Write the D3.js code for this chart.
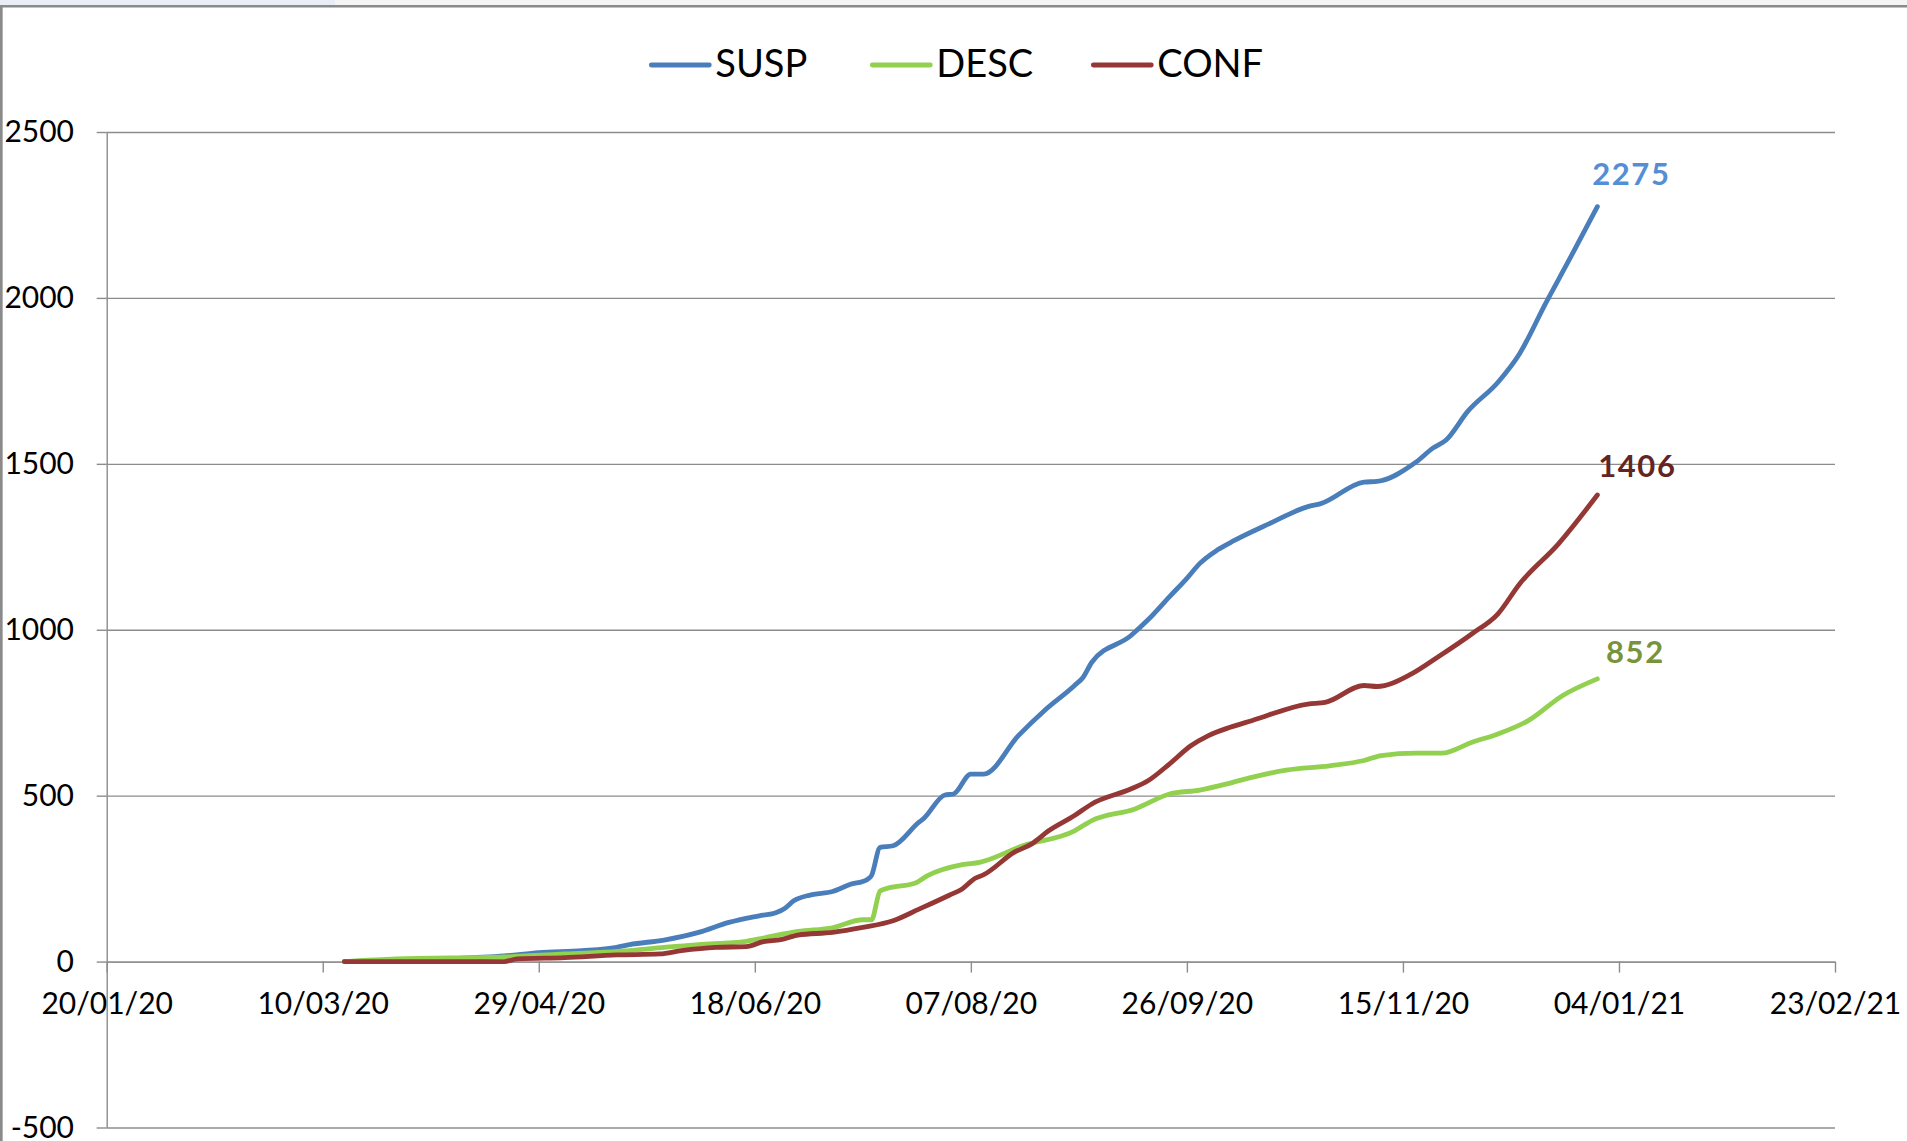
<!DOCTYPE html>
<html>
<head>
<meta charset="utf-8">
<script src="https://cdn.jsdelivr.net/npm/d3@7"></script>
<style>
  html, body { margin: 0; padding: 0; background: #ffffff; }
  svg { display: block; }
</style>
</head>
<body>
<script>
// ---------------- DATA ----------------
const seriesNames = ["SUSP", "DESC", "CONF"];

const suspDates = ["2020-03-15","2020-03-28","2020-04-09","2020-04-21","2020-04-29","2020-05-09","2020-05-17","2020-05-20","2020-05-28","2020-06-05","2020-06-12","2020-06-19","2020-06-23","2020-06-25","2020-06-27","2020-07-01","2020-07-06","2020-07-10","2020-07-14","2020-07-15","2020-07-17","2020-07-20","2020-07-26","2020-07-27","2020-08-01","2020-08-03","2020-08-07","2020-08-10","2020-08-18","2020-08-24","2020-08-31","2020-09-02","2020-09-04","2020-09-13","2020-09-17","2020-09-22","2020-09-26","2020-09-29","2020-10-03","2020-10-07","2020-10-15","2020-10-24","2020-10-27","2020-11-06","2020-11-09","2020-11-18","2020-11-22","2020-11-25","2020-11-30","2020-12-07","2020-12-12","2020-12-18","2020-12-23","2020-12-30"];
const suspValues = [0,5,9,17,27,33,43,51,65,88,118,138,148,161,183,201,211,232,247,259,344,349,420,430,502,505,565,565,681,756,832,857,902,982,1030,1100,1155,1200,1240,1269,1319,1371,1380,1445,1447,1505,1548,1572,1658,1746,1832,1983,2103,2275];

const descDates = ["2020-03-15","2020-03-27","2020-04-21","2020-05-05","2020-05-20","2020-05-28","2020-06-05","2020-06-16","2020-06-20","2020-06-28","2020-07-06","2020-07-13","2020-07-15","2020-07-17","2020-07-19","2020-07-25","2020-07-28","2020-08-05","2020-08-09","2020-08-19","2020-08-31","2020-09-04","2020-09-14","2020-09-22","2020-09-29","2020-10-06","2020-10-11","2020-10-19","2020-10-29","2020-11-06","2020-11-10","2020-11-18","2020-11-24","2020-12-01","2020-12-07","2020-12-14","2020-12-22","2020-12-30"];
const descValues = [0,8,14,23,33,43,51,61,71,91,102,126,126,213,222,236,259,292,299,349,394,425,460,505,517,538,555,577,590,606,621,628,628,661,686,726,802,852];

const confDates = ["2020-03-15","2020-04-21","2020-04-24","2020-05-05","2020-05-17","2020-05-27","2020-06-01","2020-06-09","2020-06-16","2020-06-20","2020-06-24","2020-06-28","2020-07-06","2020-07-13","2020-07-20","2020-07-26","2020-08-02","2020-08-05","2020-08-08","2020-08-10","2020-08-17","2020-08-21","2020-08-25","2020-08-31","2020-09-04","2020-09-13","2020-09-17","2020-09-22","2020-09-27","2020-10-01","2020-10-06","2020-10-11","2020-10-24","2020-10-28","2020-11-06","2020-11-09","2020-11-17","2020-11-23","2020-12-01","2020-12-07","2020-12-12","2020-12-21","2020-12-30"];
const confValues = [0,0,8,12,20,23,33,43,45,60,66,80,88,103,123,158,200,219,251,262,329,354,394,440,475,520,545,596,651,681,706,726,776,781,832,829,867,917,988,1048,1138,1259,1406];

const yTickValues = [-500, 0, 500, 1000, 1500, 2000, 2500];
const xTickLabels = ["20/01/20","10/03/20","29/04/20","18/06/20","07/08/20","26/09/20","15/11/20","04/01/21","23/02/21"];
const endLabels = ["2275", "852", "1406"];

// ---------------- LAYOUT ----------------
const W = 1907, H = 1141;
const plotLeft = 106.7, plotRight = 1835, plotTop = 132, plotBottom = 1127.5;
const colors = { SUSP: "#4A7EBB", DESC: "#92D050", CONF: "#953735" };
const labelColors = { SUSP: "#558ED5", DESC: "#77933C", CONF: "#632523" };
const labelOffsets = { SUSP: [34, -33], DESC: [38, -27], CONF: [40, -29] };
const gridColor = "#8c8c8c";

const parse = d3.timeParse("%d/%m/%y");
const parseISO = d3.timeParse("%Y-%m-%d");
const xTicks = xTickLabels.map(parse);

const series = [
  { name: seriesNames[0], dates: suspDates, values: suspValues, label: endLabels[0] },
  { name: seriesNames[1], dates: descDates, values: descValues, label: endLabels[1] },
  { name: seriesNames[2], dates: confDates, values: confValues, label: endLabels[2] }
].map(s => ({ ...s, points: s.dates.map((d, i) => ({ date: parseISO(d), value: s.values[i] })) }));

const x = d3.scaleTime().domain([xTicks[0], xTicks[xTicks.length - 1]]).range([plotLeft, plotRight]);
const y = d3.scaleLinear().domain([-500, 2500]).range([plotBottom, plotTop]);

const svg = d3.select("body").append("svg").attr("width", W).attr("height", H);
svg.append("rect").attr("width", W).attr("height", H).attr("fill", "#ffffff");

// window chrome edges
svg.append("rect").attr("x", 0).attr("y", 0).attr("width", W).attr("height", 5).attr("fill", "#f4f4f4");
svg.append("rect").attr("x", 0).attr("y", 0).attr("width", 335).attr("height", 5).attr("fill", "#e9eef6");
svg.append("line").attr("x1", 0).attr("x2", W).attr("y1", 6.2).attr("y2", 6.2).attr("stroke", "#8a8a8a").attr("stroke-width", 2.5);
svg.append("line").attr("x1", 1.3).attr("x2", 1.3).attr("y1", 5).attr("y2", H).attr("stroke", "#8a8a8a").attr("stroke-width", 2.7);

const fontAxis = "Lato, 'Open Sans', sans-serif";

// gridlines
const grid = svg.append("g").attr("transform", `translate(${plotLeft},0)`)
  .call(d3.axisRight(y).tickValues(yTickValues).tickSize(plotRight - plotLeft).tickFormat(""));
grid.select(".domain").remove();
grid.selectAll(".tick line").attr("stroke", gridColor).attr("stroke-width", 1.4);

// y axis
const yAxis = svg.append("g").attr("transform", `translate(${plotLeft},0)`)
  .call(d3.axisLeft(y).tickValues(yTickValues).tickSize(10).tickPadding(22.7).tickSizeOuter(0)
    .tickFormat(d => String(d)));
yAxis.select(".domain").attr("stroke", gridColor).attr("stroke-width", 1.4);
yAxis.selectAll(".tick line").attr("stroke", gridColor).attr("stroke-width", 1.4);
yAxis.selectAll(".tick text").attr("font-family", fontAxis).attr("font-size", 30).attr("fill", "#000");

// x axis at zero
const xAxis = svg.append("g").attr("transform", `translate(0,${y(0)})`)
  .call(d3.axisBottom(x).tickValues(xTicks).tickSize(11).tickPadding(20).tickSizeOuter(0)
    .tickFormat(d3.timeFormat("%d/%m/%y")));
xAxis.select(".domain").attr("stroke", gridColor).attr("stroke-width", 1.4);
xAxis.selectAll(".tick line").attr("stroke", gridColor).attr("stroke-width", 1.4);
xAxis.selectAll(".tick text").attr("font-family", fontAxis).attr("font-size", 30).attr("fill", "#000");

// lines
const line = d3.line().x(d => x(d.date)).y(d => y(d.value)).curve(d3.curveMonotoneX);
svg.append("g").selectAll("path").data(series).join("path")
  .attr("d", s => line(s.points))
  .attr("fill", "none")
  .attr("stroke", s => colors[s.name])
  .attr("stroke-width", 4.8)
  .attr("stroke-linejoin", "round")
  .attr("stroke-linecap", "round");

// end labels
svg.append("g").selectAll("text").data(series).join("text")
  .attr("x", s => x(s.points[s.points.length - 1].date) + labelOffsets[s.name][0])
  .attr("y", s => y(s.points[s.points.length - 1].value) + labelOffsets[s.name][1] + 11)
  .attr("text-anchor", "middle")
  .attr("font-family", fontAxis)
  .attr("font-weight", "bold")
  .attr("font-size", 31)
  .attr("letter-spacing", 1.6)
  .attr("fill", s => labelColors[s.name])
  .text(s => s.label);

// legend
const legendLineX = { SUSP: 651.3, DESC: 872.3, CONF: 1093.3 };
const legend = svg.append("g").selectAll("g").data(series).join("g")
  .attr("transform", s => `translate(${legendLineX[s.name]},0)`);
legend.append("line")
  .attr("x1", 0).attr("x2", 58).attr("y1", 65).attr("y2", 65)
  .attr("stroke", s => colors[s.name]).attr("stroke-width", 4.8).attr("stroke-linecap", "round");
legend.append("text")
  .attr("x", 64).attr("y", 77.3)
  .attr("font-family", fontAxis).attr("font-size", 38).attr("fill", "#000")
  .text(s => s.name);
</script>
</body>
</html>
